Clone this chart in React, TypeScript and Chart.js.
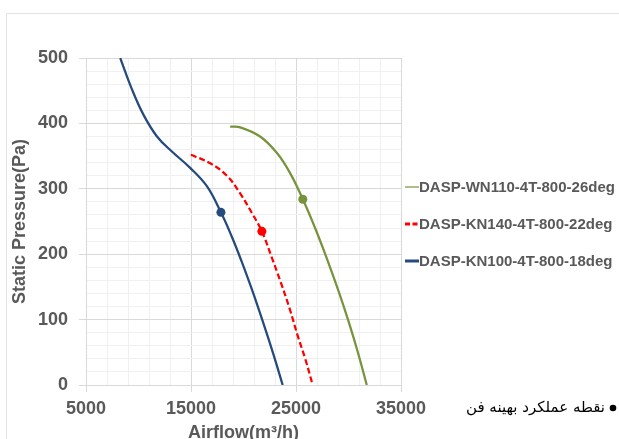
import React, { useEffect, useRef } from "react";
import { Chart, registerables } from "chart.js";

Chart.register(...registerables);

// ---- data ----
const seriesNames = [
  "DASP-WN110-4T-800-26deg",
  "DASP-KN140-4T-800-22deg",
  "DASP-KN100-4T-800-18deg",
];
const seriesColors = ["#77933c", "#ff0000", "#254a7d"];

const airflowWN110 = [18730, 19680, 21580, 23170, 24440, 25650, 26770, 27880, 29020, 30050, 30910, 31740];
const pressureWN110 = [395, 394, 380, 355, 324, 284, 242, 196, 145, 95, 49, 0];

const airflowKN140 = [14990, 16830, 18420, 19680, 20800, 21750, 22670, 23550, 24370, 25150, 25880, 26590];
const pressureKN140 = [352, 339, 320, 293, 263, 235, 196, 157, 118, 76, 40, 0];

const airflowKN100 = [8260, 9380, 10480, 11760, 13180, 14920, 16510, 17850, 18880, 19820, 20690, 21510, 22290, 23020, 23730];
const pressureKN100 = [500, 452, 413, 380, 357, 332, 304, 264, 227, 189, 151, 113, 75, 38, 0];

// optimum operating points (same order as seriesNames)
const optimalAirflow = [25650, 21750, 17850];
const optimalPressure = [284, 235, 264];

const xMin = 5000;
const xMax = 35000;
const xMajor = 10000;
const xMinor = 2000;
const yMin = 0;
const yMax = 500;
const yMajor = 100;
const yMinor = 20;

const xTitle = "Airflow(m³/h)";
const yTitle = "Static Pressure(Pa)";
const noteText = "نقطه عملکرد بهینه فن";

const TEXT_GRAY = "#595959";
const FONT = '"Liberation Sans", Arial, sans-serif';

export default function App() {
  const ref = useRef<HTMLCanvasElement>(null);

  useEffect(() => {
    const canvas = ref.current;
    if (!canvas) return;

    const isMajorX = (v: number) => Math.abs((v - xMin) % xMajor) < 1e-6;
    const isMajorY = (v: number) => Math.abs((v - yMin) % yMajor) < 1e-6;

    const curves = [
      { x: airflowWN110, y: pressureWN110, dash: [] as number[], width: 2.25 },
      { x: airflowKN140, y: pressureKN140, dash: [6, 3], width: 2.25 },
      { x: airflowKN100, y: pressureKN100, dash: [] as number[], width: 2.25 },
    ];

    const markerSets = seriesNames.map((name, i) => ({
      label: name + " opt",
      data: [{ x: optimalAirflow[i], y: optimalPressure[i] }],
      showLine: false,
      pointRadius: 4.5,
      pointHoverRadius: 4.5,
      pointBackgroundColor: seriesColors[i],
      pointBorderColor: seriesColors[i],
      pointBorderWidth: 0,
    }));

    const lineSets = seriesNames.map((name, i) => ({
      label: name,
      data: curves[i].x.map((xv, j) => ({ x: xv, y: curves[i].y[j] })),
      showLine: true,
      borderColor: seriesColors[i],
      backgroundColor: seriesColors[i],
      borderWidth: curves[i].width,
      borderDash: curves[i].dash,
      pointRadius: 0,
      tension: 0.4,
      fill: false,
    }));

    const legendLineWidths = [1.2, 3, 3];
    const legendDashes = [[], [5, 2.5], []];

    const sideLegend = {
      id: "sideLegend",
      afterDraw(chart: any) {
        const ctx = chart.ctx as CanvasRenderingContext2D;
        const area = chart.chartArea;
        ctx.save();
        seriesNames.forEach((name, i) => {
          const y = area.top + 129 + i * 37;
          const x0 = area.right + 4;
          ctx.beginPath();
          ctx.setLineDash(legendDashes[i]);
          ctx.lineWidth = legendLineWidths[i];
          ctx.strokeStyle = seriesColors[i];
          ctx.moveTo(x0, y);
          ctx.lineTo(x0 + 14, y);
          ctx.stroke();
          ctx.setLineDash([]);
          ctx.fillStyle = TEXT_GRAY;
          ctx.font = "bold 15px " + FONT;
          ctx.textAlign = "left";
          ctx.textBaseline = "middle";
          ctx.fillText(name, x0 + 14, y + 0.5);
        });
        // optimum point note
        const ny = area.bottom + 23;
        ctx.fillStyle = "#000";
        ctx.beginPath();
        ctx.arc(613, ny, 3.3, 0, Math.PI * 2);
        ctx.fill();
        ctx.font = '15px "DejaVu Sans", sans-serif';
        ctx.textAlign = "right";
        ctx.textBaseline = "middle";
        (ctx as any).direction = "rtl";
        ctx.fillText(noteText, 605, ny);
        ctx.restore();
      },
    };

    const xTickValues: number[] = [];
    for (let v = xMin; v <= xMax; v += xMinor) xTickValues.push(v);
    const yTickValues: number[] = [];
    for (let v = yMin; v <= yMax; v += yMinor) yTickValues.push(v);

    const chart = new Chart(canvas, {
      type: "scatter",
      data: { datasets: [...markerSets, ...lineSets] as any },
      plugins: [sideLegend],
      options: {
        responsive: false,
        devicePixelRatio: 1,
        animation: false,
        layout: { padding: { left: 0, right: 218, top: 58, bottom: 0 } },
        plugins: {
          legend: { display: false },
          tooltip: { enabled: false },
        },
        scales: {
          x: {
            type: "linear",
            min: xMin,
            max: xMax,
            afterBuildTicks: (scale: any) => {
              scale.ticks = xTickValues.map((v) => ({ value: v }));
            },
            afterFit: (scale: any) => {
              scale.height = 54;
            },
            border: { color: "#d9d9d9", width: 1 },
            grid: {
              color: (c: any) => (isMajorX(c.tick.value) ? "#d9d9d9" : "#f0f0f0"),
              tickColor: (c: any) => (isMajorX(c.tick.value) ? "#d9d9d9" : "rgba(0,0,0,0)"),
              tickLength: 7,
              lineWidth: 1,
            },
            ticks: {
              autoSkip: false,
              maxRotation: 0,
              minRotation: 0,
              padding: 6,
              color: TEXT_GRAY,
              font: { family: FONT, size: 18, weight: "bold" },
              callback: (v: any) => (isMajorX(Number(v)) ? String(v) : ""),
            },
            title: {
              display: true,
              text: xTitle,
              color: TEXT_GRAY,
              font: { family: FONT, size: 18, weight: "bold", lineHeight: 1 },
              padding: { top: 0, bottom: -3 },
            },
          },
          y: {
            type: "linear",
            min: yMin,
            max: yMax,
            afterBuildTicks: (scale: any) => {
              scale.ticks = yTickValues.map((v) => ({ value: v }));
            },
            afterFit: (scale: any) => {
              scale.width = 86;
            },
            border: { color: "#d9d9d9", width: 1 },
            grid: {
              color: (c: any) => (isMajorY(c.tick.value) ? "#d9d9d9" : "#f0f0f0"),
              tickColor: (c: any) => (isMajorY(c.tick.value) ? "#d9d9d9" : "rgba(0,0,0,0)"),
              tickLength: 7,
              lineWidth: 1,
            },
            ticks: {
              autoSkip: false,
              padding: 11,
              color: TEXT_GRAY,
              font: { family: FONT, size: 18, weight: "bold" },
              callback: (v: any) => (isMajorY(Number(v)) ? String(v) : ""),
            },
            title: {
              display: true,
              text: yTitle,
              color: TEXT_GRAY,
              font: { family: FONT, size: 18, weight: "bold", lineHeight: 1.2 },
              padding: { top: 9, bottom: 0 },
            },
          },
        },
      } as any,
    });

    return () => chart.destroy();
  }, []);

  return (
    <div
      style={{
        position: "fixed",
        left: 0,
        top: 0,
        width: 619,
        height: 439,
        background: "#ffffff",
        overflow: "hidden",
      }}
    >
      <div
        style={{
          position: "absolute",
          left: 6,
          top: 13,
          width: 700,
          height: 500,
          border: "1px solid #e3e3e3",
        }}
      />
      <canvas
        ref={ref}
        width={619}
        height={439}
        style={{ position: "absolute", left: 0, top: 0, width: 619, height: 439 }}
      />
    </div>
  );
}
